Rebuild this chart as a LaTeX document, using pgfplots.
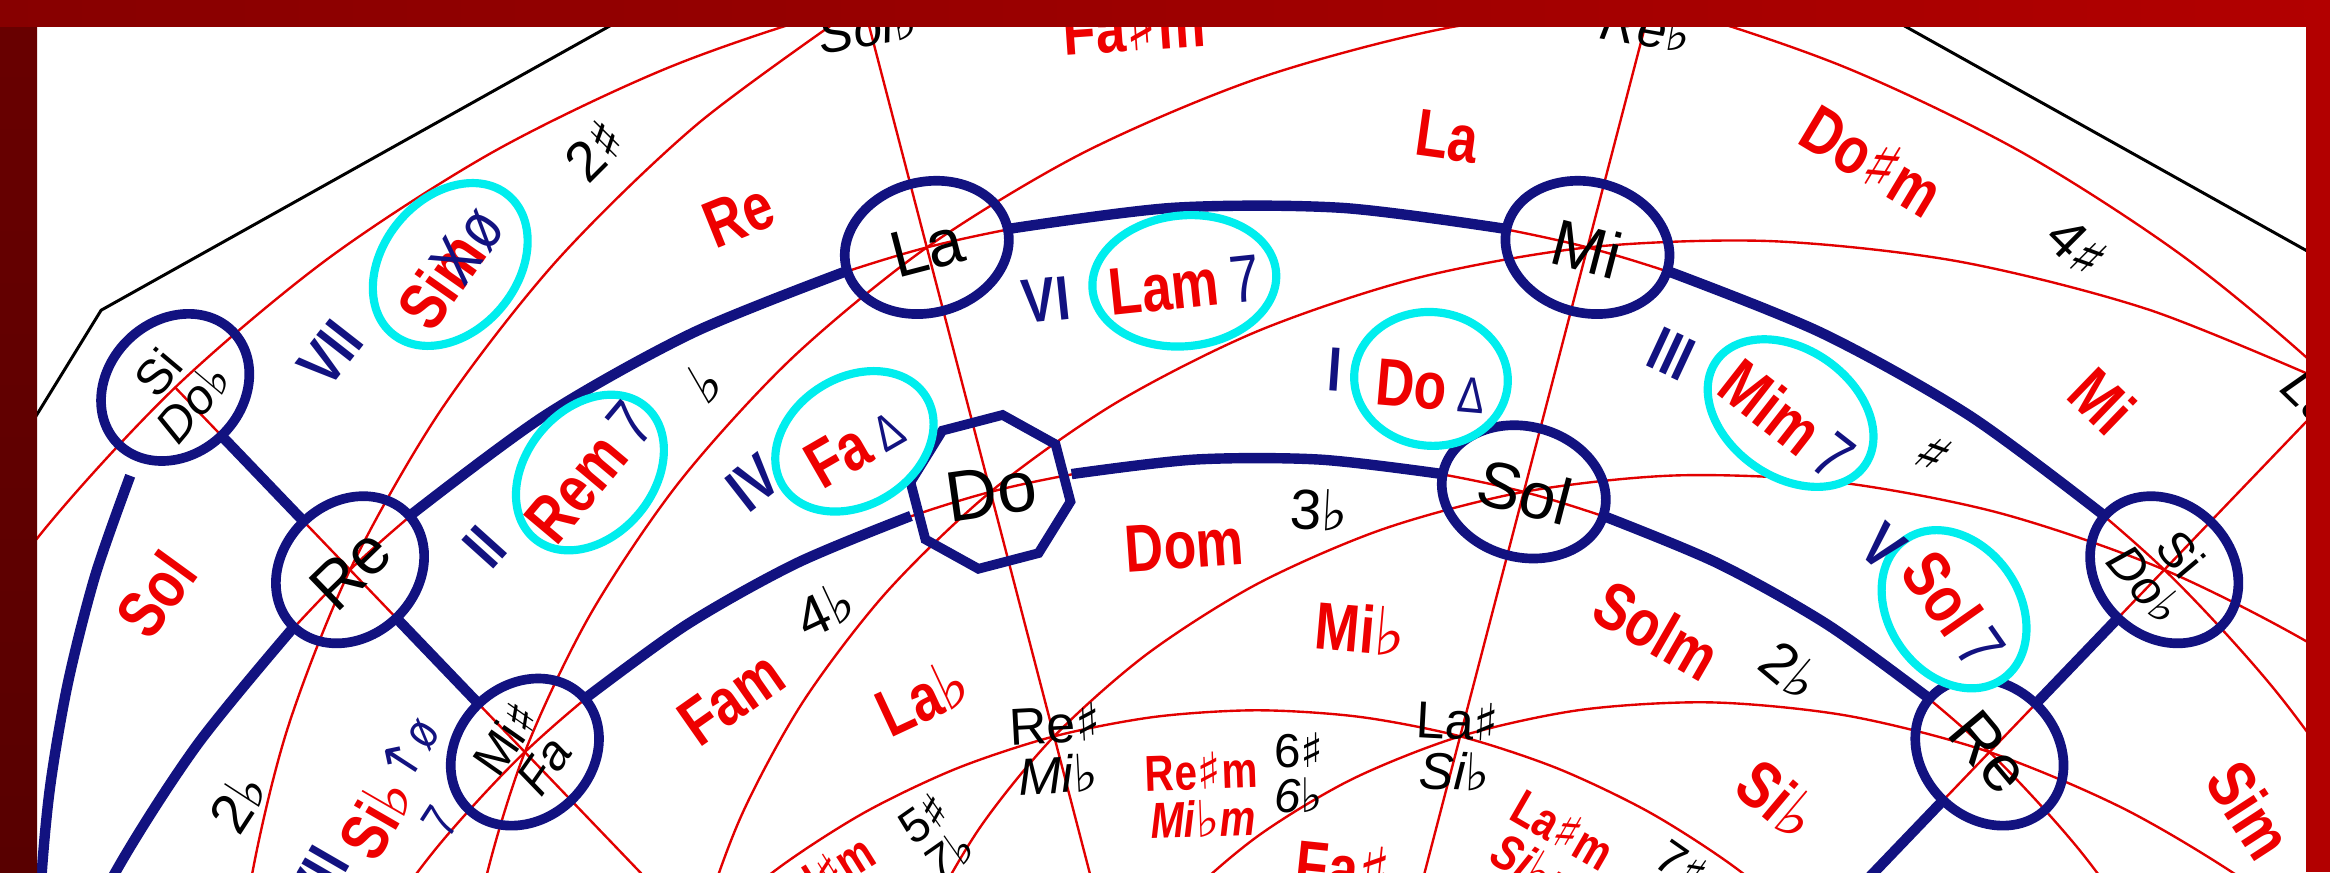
\documentclass[border=0pt]{standalone}
\usepackage{fontspec}
\setmainfont{Liberation Sans}
\newfontfamily\cond[FakeStretch=0.8]{Liberation Sans}
\newfontfamily\sym{DejaVu Sans}
\usepackage{pgfplots}
\usepackage{pgfplotstable}
\pgfplotsset{compat=1.18}
\definecolor{tred}{RGB}{238,0,0}
\definecolor{lred}{RGB}{226,0,0}
\definecolor{navy}{RGB}{18,18,128}
\definecolor{cyn}{RGB}{0,238,238}
\definecolor{bl}{RGB}{105,0,0}
\definecolor{blb}{RGB}{88,0,0}
\definecolor{btl}{RGB}{135,0,0}
\definecolor{btr}{RGB}{178,0,0}
\newcommand\fl{{\sym ♭}}
\newcommand\sh{{\sym ♯}}
\newcommand\lab[5]{\node[#1,rotate=#4] at (axis cs:{#2-846},{1020-#3}) {#5};}
\tikzset{
 key/.style={text=tred,font=\cond\bfseries\fontsize{45}{45}\selectfont,inner sep=0pt,align=center},
 keys/.style={text=tred,font=\cond\bfseries\fontsize{34}{32}\selectfont,inner sep=0pt,align=center},
 chord/.style={text=tred,font=\cond\bfseries\fontsize{45}{45}\selectfont,inner sep=0pt},
 sig/.style={text=black,font=\fontsize{38}{38}\selectfont,inner sep=0pt,align=center},
 sigs/.style={text=black,font=\fontsize{32}{30}\selectfont,inner sep=0pt,align=center},
 rom/.style={text=navy,font=\cond\bfseries\fontsize{42}{42}\selectfont,inner sep=0pt},
 roms/.style={text=navy,font=\cond\fontsize{34}{34}\selectfont,inner sep=0pt},
 nl/.style={text=black,font=\fontsize{44}{44}\selectfont,inner sep=0pt},
 nlb/.style={text=black,font=\fontsize{48}{48}\selectfont,inner sep=0pt},
 nls/.style={text=black,font=\fontsize{33}{31}\selectfont,inner sep=0pt,align=center},
 nlm/.style={text=black,font=\fontsize{35}{34}\selectfont,inner sep=0pt,align=center},
}
\pgfdeclareplotmark{oct}{%
 \pgfpathmoveto{\pgfqpoint{0.924\pgfplotmarksize}{0.383\pgfplotmarksize}}%
 \pgfpathlineto{\pgfqpoint{0.383\pgfplotmarksize}{0.924\pgfplotmarksize}}%
 \pgfpathlineto{\pgfqpoint{-0.383\pgfplotmarksize}{0.924\pgfplotmarksize}}%
 \pgfpathlineto{\pgfqpoint{-0.924\pgfplotmarksize}{0.383\pgfplotmarksize}}%
 \pgfpathlineto{\pgfqpoint{-0.924\pgfplotmarksize}{-0.383\pgfplotmarksize}}%
 \pgfpathlineto{\pgfqpoint{-0.383\pgfplotmarksize}{-0.924\pgfplotmarksize}}%
 \pgfpathlineto{\pgfqpoint{0.383\pgfplotmarksize}{-0.924\pgfplotmarksize}}%
 \pgfpathlineto{\pgfqpoint{0.924\pgfplotmarksize}{-0.383\pgfplotmarksize}}%
 \pgfpathclose\pgfusepathqstroke}
% lattice: angle a, circles r0..r3, major-third spirals c372..c1052
\pgfplotstableread{
a     r0  r1  r2  r3   c372  c542   c712   c882   c1052
17    542 712 882 1052 882   1052   nan    nan    nan
24.3  542 712 882 1052 839.5 1009.5 nan    nan    nan
31.6  542 712 882 1052 797   967    nan    nan    nan
38.9  542 712 882 1052 754.5 924.5  nan    nan    nan
46.2  542 712 882 1052 712   882    1052   nan    nan
53.5  542 712 882 1052 669.5 839.5  1009.5 nan    nan
60.8  542 712 882 1052 627   797    967    nan    nan
68.1  542 712 882 1052 584.5 754.5  924.5  nan    nan
75.4  542 712 882 1052 542   712    882    1052   nan
82.7  542 712 882 1052 499.5 669.5  839.5  1009.5 nan
90    542 712 882 1052 457   627    797    967    nan
97.3  542 712 882 1052 414.5 584.5  754.5  924.5  nan
104.6 542 712 882 1052 372   542    712    882    1052
111.9 542 712 882 1052 329.5 499.5  669.5  839.5  1009.5
119.2 542 712 882 1052 287   457    627    797    967
126.5 542 712 882 1052 244.5 414.5  584.5  754.5  924.5
133.8 542 712 882 1052 202   372    542    712    882
141.1 542 712 882 1052 159.5 329.5  499.5  669.5  839.5
148.4 542 712 882 1052 117   287    457    627    797
155.7 542 712 882 1052 74.5  244.5  414.5  584.5  754.5
163   542 712 882 1052 32    202    372    542    712
}\lat
\begin{document}
\begin{tikzpicture}
\begin{axis}[
  scale only axis, width=1568pt, height=587pt,
  xmin=-846, xmax=722, ymin=433, ymax=1020,
  hide axis, clip marker paths=true, unbounded coords=jump,
]
\fill[white] (axis cs:-846,433) rectangle (axis cs:722,1020);
% red lattice
\pgfplotsinvokeforeach{r0,r1,r2,r3,c372,c542,c712,c882,c1052}{
  \addplot[lred, line width=1.6pt, data cs=polar, smooth, no marks] table[x=a,y=#1] {\lat};
}
\addplot[lred, line width=1.6pt, data cs=polar, no marks] coordinates {(46.2,250) (46.2,1052)};
\addplot[lred, line width=1.6pt, data cs=polar, no marks] coordinates {(75.4,250) (75.4,1052)};
\addplot[lred, line width=1.6pt, data cs=polar, no marks] coordinates {(104.6,250) (104.6,1052)};
\addplot[lred, line width=1.6pt, data cs=polar, no marks] coordinates {(133.8,250) (133.8,1052)};
% black outer polygon
\addplot[black, line width=2pt, data cs=polar, no marks] coordinates {(163,1124) (133.8,1124) (104.6,1124) (75.4,1124) (46.2,1124) (17,1124)};
% navy paths
\addplot[navy, line width=7pt, data cs=polar, smooth, no marks] coordinates {(137.4,882) (144,882) (150.6,882) (157.2,882) (163,882)};
\addplot[navy, line width=7pt, data cs=polar, smooth, no marks] coordinates {(108.2,882) (115.5,882) (122.9,882) (130.2,882)};
\addplot[navy, line width=7pt, data cs=polar, smooth, no marks] coordinates {(79,882) (86.3,882) (93.7,882) (101,882)};
\addplot[navy, line width=7pt, data cs=polar, smooth, no marks] coordinates {(49.8,882) (57.1,882) (64.5,882) (71.8,882)};
\addplot[navy, line width=7pt, data cs=polar, smooth, no marks] coordinates {(109.1,712) (115.8,712) (122.6,712) (129.3,712)};
\addplot[navy, line width=7pt, data cs=polar, smooth, no marks] coordinates {(79.9,712) (86.6,712) (93.4,712) (100.1,712)};
\addplot[navy, line width=7pt, data cs=polar, smooth, no marks] coordinates {(50.7,712) (57.4,712) (64.2,712) (70.9,712)};
\addplot[navy, line width=7pt, data cs=polar, no marks] coordinates {(133.8,756) (133.8,838)};
\addplot[navy, line width=7pt, data cs=polar, no marks] coordinates {(133.8,926) (133.8,1008)};
\addplot[navy, line width=7pt, data cs=polar, no marks] coordinates {(46.2,586) (46.2,668)};
\addplot[navy, line width=7pt, data cs=polar, no marks] coordinates {(46.2,756) (46.2,838)};
\addplot[navy, line width=7pt, data cs=polar, smooth, no marks] coordinates {(137.3,1032) (141,1006) (145,977) (149,948) (153,919) (157,890)};
% node ellipses
\addplot[data cs=polar, only marks, mark=o, mark size=45pt, mark options={rotate=43.8, xscale=1.2, draw=navy, line width=6.5pt}] coordinates {(133.8,1052) (133.8,882) (133.8,712)};
\addplot[data cs=polar, only marks, mark=o, mark size=44pt, mark options={rotate=14.6, xscale=1.27, draw=navy, line width=6.5pt}] coordinates {(104.6,882)};
\addplot[data cs=polar, only marks, mark=o, mark size=44pt, mark options={rotate=-14.6, xscale=1.27, draw=navy, line width=6.5pt}] coordinates {(75.4,882) (75.4,712)};
\addplot[data cs=polar, only marks, mark=o, mark size=45pt, mark options={rotate=-43.8, xscale=1.2, draw=navy, line width=6.5pt}] coordinates {(46.2,882) (46.2,712) (46.2,542)};
\addplot[data cs=polar, only marks, mark=oct, mark size=52pt, mark options={rotate=14.6, xscale=1.05, draw=navy, line width=6.5pt}] coordinates {(104.6,712)};
% cyan chord ellipses
\addplot[only marks, mark=*, mark size=45pt, mark options={rotate=50, xscale=1.35, draw=cyn, fill=white, line width=5.5pt}] coordinates {(-543,842)};
\addplot[only marks, mark=*, mark size=44pt, mark options={rotate=6, xscale=1.41, draw=cyn, fill=white, line width=5.5pt}] coordinates {(-49,831)};
\addplot[only marks, mark=*, mark size=45pt, mark options={rotate=-5, xscale=1.15, draw=cyn, fill=white, line width=5.5pt}] coordinates {(117,765)};
\addplot[only marks, mark=*, mark size=43pt, mark options={rotate=-35, xscale=1.42, draw=cyn, fill=white, line width=5.5pt}] coordinates {(359,742)};
\addplot[only marks, mark=*, mark size=44pt, mark options={rotate=-55, xscale=1.3, draw=cyn, fill=white, line width=5.5pt}] coordinates {(469,610)};
\addplot[only marks, mark=*, mark size=43pt, mark options={rotate=50, xscale=1.35, draw=cyn, fill=white, line width=5.5pt}] coordinates {(-449,702)};
\addplot[only marks, mark=*, mark size=43pt, mark options={rotate=32, xscale=1.32, draw=cyn, fill=white, line width=5.5pt}] coordinates {(-271,723)};
% chord texts
\lab{chord}{303}{180}{55}{Si\rlap{m}\makebox[0.71em]{\color{navy}\mdseries X}{\color{navy}\mdseries ø}}
\lab{chord}{797}{192}{6}{Lam\,{\color{navy}\mdseries 7}}
\lab{chord}{963}{260}{-5}{Do\,{\color{navy}\mdseries\fontsize{34}{34}\selectfont Δ}}
\lab{chord}{1203}{282}{-38}{Mim\,{\color{navy}\mdseries 7}}
\lab{chord}{1315}{410}{-55}{Sol\,{\color{navy}\mdseries 7}}
\lab{chord}{397}{318}{50}{Rem\,{\color{navy}\mdseries 7}}
\lab{chord}{575}{300}{30}{Fa\,{\color{navy}\mdseries\fontsize{34}{34}\selectfont Δ}}
% key labels
\lab{key}{497}{145}{22}{Re}
\lab{key}{974}{92}{-8}{La}
\lab{key}{763}{18}{4}{Fa\sh m}
\lab{key}{1260}{108}{-31}{Do\sh m}
\lab{key}{1415}{270}{-44}{Mi}
\lab{key}{105}{400}{54}{Sol}
\lab{key}{797}{367}{4}{Dom}
\lab{key}{916}{423}{-5}{Mi\fl}
\lab{key}{621}{469}{25}{La\fl}
\lab{key}{492}{470}{35}{Fam}
\lab{key}{1115}{424}{-30}{Solm}
\lab{key}{1197}{538}{-40}{Si\fl}
\lab{key}{1514}{545}{-57}{Sim}
\lab{key}{253}{550}{60}{Si\fl}
\lab{key}{904}{584}{-6}{Fa\sh}
\lab{keys}{1044}{572}{-30}{La\sh m\\\itshape Si\fl m}
\lab{keys}{550}{592}{32}{Sol\sh m}
\lab{keys}{809}{535}{2}{Re\sh m\\\itshape Mi\fl m}
% key signatures
\lab{sig}{400}{101}{45}{2\sh}
\lab{sig}{475}{257}{30}{\fl}
\lab{sig}{1398}{166}{-45}{4\sh}
\lab{sig}{1301}{305}{-45}{\sh}
\lab{sig}{888}{343}{-3}{3\fl}
\lab{sig}{555}{410}{25}{4\fl}
\lab{sig}{1205}{451}{-40}{2\fl}
\lab{sig}{160}{540}{57}{2\fl}
\lab{sigs}{874}{520}{0}{6\sh\\\itshape 6\fl}
\lab{sigs}{630}{563}{35}{5\sh\\\itshape 7\fl}
\lab{sigs}{1132}{582}{-35}{7\sh}
% roman numerals
\lab{rom}{222}{238}{52}{VII}
\lab{rom}{704}{202}{6}{VI}
\lab{rom}{898}{249}{-4}{I}
\lab{rom}{1125}{238}{-25}{III}
\lab{rom}{326}{368}{48}{II}
\lab{rom}{507}{325}{38}{IV}
\lab{rom}{1267}{368}{-42}{V}
\lab{rom}{214}{592}{60}{VII}
\lab{roms}{275}{505}{57}{{\sym ↑}ø}
\lab{roms}{296}{553}{57}{7}
% note labels
\lab{nl}{624}{167}{14.6}{La}
\lab{nl}{1068}{167}{-14.6}{Mi}
\lab{nlb}{667}{331}{8}{Do}
\lab{nl}{1026}{331}{-14.6}{Sol}
\lab{nl}{236}{383}{44}{Re}
\lab{nl}{1339}{506}{-50}{Re}
\lab{nls}{118}{261}{50}{Si\\\itshape Do\fl}
\lab{nls}{1456}{383}{-50}{Si\\\itshape Do\fl}
\lab{nls}{353}{506}{55}{Mi\sh\\\itshape Fa}
\lab{nlm}{711}{504}{3}{Re\sh\\\itshape Mi\fl}
\lab{nlm}{980}{502}{-3}{La\sh\\\itshape Si\fl}
\lab{nlm}{581}{2}{10}{Fa\sh\\\itshape Sol\fl}
\lab{nlm}{1111}{2}{-10}{Do\sh\\\itshape Re\fl}
\lab{nlm}{1574}{261}{-44}{Sol\sh\\\itshape La\fl}
% frame
\shade[top color=bl, bottom color=blb] (axis cs:-846,433) rectangle (axis cs:-821,1020);
\fill[btr] (axis cs:706,433) rectangle (axis cs:722,1020);
\shade[left color=btl, right color=btr] (axis cs:-846,1002) rectangle (axis cs:722,1020);
\end{axis}
\pgfresetboundingbox
\path[use as bounding box] (current axis.south west) rectangle (current axis.north east);
\end{tikzpicture}
\end{document}
